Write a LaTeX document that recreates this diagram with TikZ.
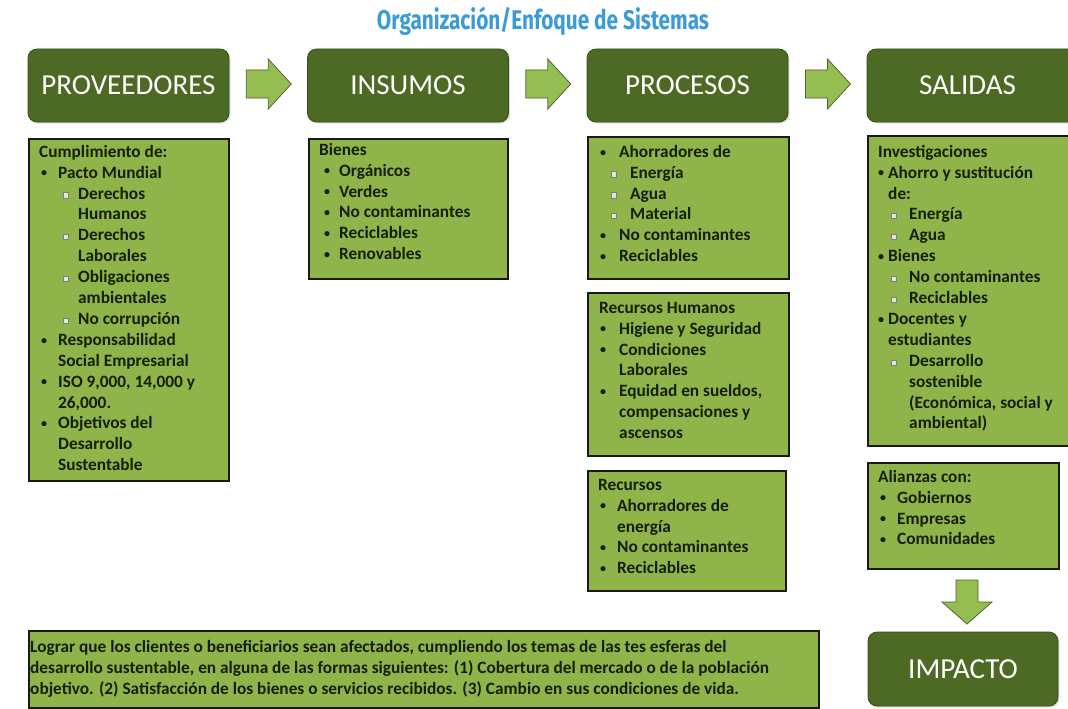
\documentclass[tikz,border=0pt]{standalone}
\usepackage{fontspec}
\setmainfont{Carlito}
\newfontfamily\titlefont{Fira Sans}
\usetikzlibrary{calc,shadows}
\definecolor{hdrgreen}{RGB}{76,106,36}
\definecolor{hdrborder}{RGB}{55,78,25}
\definecolor{boxgreen}{RGB}{143,181,74}
\definecolor{arrowgreen}{RGB}{148,190,82}
\definecolor{arrowborder}{RGB}{80,98,52}
\definecolor{txtdark}{RGB}{22,30,8}
\definecolor{titleblue}{RGB}{58,155,216}
\definecolor{sqfill}{RGB}{225,232,210}
\newcommand\sqbox{\raisebox{1.5pt}{\setlength\fboxsep{0pt}\setlength\fboxrule{0.6pt}\fcolorbox{black!50}{sqfill}{\rule{0pt}{4.6pt}\rule{4.6pt}{0pt}}}}
\newcommand\smbul{\raisebox{1.2pt}{\fontsize{12}{12}\selectfont\textbullet}}
\newcommand\Bu[3]{\hspace*{#1pt}\makebox[\dimexpr#2pt-#1pt\relax][l]{\smbul}#3}
\newcommand\Sb[3]{\hspace*{#1pt}\makebox[\dimexpr#2pt-#1pt\relax][l]{\sqbox}#3}
\newcommand\Co[2]{\hspace*{#1pt}#2}
\begin{document}
\begin{tikzpicture}[x=1pt,y=-1pt,
  hdr/.style={rounded corners=9pt, fill=hdrgreen, draw=hdrborder, line width=0.8pt,
    minimum width=201pt, minimum height=73pt, text=white,
    font=\fontsize{29}{32}\selectfont, drop shadow={opacity=0.25, shadow xshift=1.5pt, shadow yshift=-1.5pt}},
  cbox/.style={rectangle, fill=boxgreen, draw=black!90, line width=2pt, anchor=north west, inner sep=0pt},
  ctext/.style={anchor=north west, inner sep=0pt, align=left, text=txtdark,
    font=\bfseries\fontsize{17.3}{20.9}\selectfont},
  blockarrow/.style={fill=arrowgreen, draw=arrowborder, line width=0.8pt, line join=miter}
]
\useasboundingbox (0,0) rectangle (1068,709);
\fill[white] (0,0) rectangle (1068,709);

% title
\node[text=titleblue, inner sep=0pt] (title) at (543,21)
  {\resizebox{332pt}{\height}{\titlefont\bfseries\fontsize{27}{30}\selectfont Organización/Enfoque de Sistemas}};

% headers
\node[hdr] (prov) at (128.5,85.5) {PROVEEDORES};
\node[hdr] (ins) at (408,85.5) {INSUMOS};
\node[hdr] (proc) at (687.5,85.5) {PROCESOS};
\node[hdr, minimum width=222pt] (sal) at (978,85.5) {\hspace{-21pt}SALIDAS};

% right arrows
\foreach \a/\b/\n in {prov/ins/a1, ins/proc/a2, proc/sal/a3}{
  \coordinate (\n) at ($(\a.east)!0.5!(\b.west)+(0,-1.5)$);
  \draw[blockarrow, shift={(\n)}] (-22,-14) -- (0,-14) -- (0,-25) -- (23,0) -- (0,25) -- (0,14) -- (-22,14) -- cycle;
}

% content boxes
\node[cbox, minimum width=200pt, minimum height=342pt] (provbox) at (28,138) {};
\node[cbox, minimum width=199pt, minimum height=140pt] (insbox) at (308,138) {};
\node[cbox, minimum width=201pt, minimum height=142pt] (p1box) at (587,136) {};
\node[cbox, minimum width=201pt, minimum height=163pt] (p2box) at (587,292) {};
\node[cbox, minimum width=198pt, minimum height=120pt] (p3box) at (587,470) {};
\node[cbox, minimum width=215pt, minimum height=310pt] (s1box) at (867,135) {};
\node[cbox, minimum width=191pt, minimum height=106pt] (s2box) at (867,462) {};
\node[cbox, minimum width=790pt, minimum height=77pt] (bottombox) at (28,630) {};

% texts
\node[ctext] (provtxt) at (39,142.4) {\strut Cumplimiento de:\\
\Bu{2}{19}{Pacto Mundial}\\
\Sb{23.5}{39}{Derechos}\\
\Co{39}{Humanos}\\
\Sb{23.5}{39}{Derechos}\\
\Co{39}{Laborales}\\
\Sb{23.5}{39}{Obligaciones}\\
\Co{39}{ambientales}\\
\Sb{23.5}{39}{No corrupción}\\
\Bu{2}{19}{Responsabilidad}\\
\Co{19}{Social Empresarial}\\
\Bu{2}{19}{ISO 9,000, 14,000 y}\\
\Co{19}{26,000.}\\
\Bu{2}{19}{Objetivos del}\\
\Co{19}{Desarrollo}\\
\Co{19}{Sustentable}};

\node[ctext] (instxt) at (319,140.4) {\strut Bienes\\
\Bu{5}{20}{Orgánicos}\\
\Bu{5}{20}{Verdes}\\
\Bu{5}{20}{No contaminantes}\\
\Bu{5}{20}{Reciclables}\\
\Bu{5}{20}{Renovables}};

\node[ctext] (p1txt) at (599,142.4) {\strut\Bu{1}{20}{Ahorradores de}\\
\Sb{11.5}{31}{Energía}\\
\Sb{11.5}{31}{Agua}\\
\Sb{11.5}{31}{Material}\\
\Bu{1}{20}{No contaminantes}\\
\Bu{1}{20}{Reciclables}};

\node[ctext] (p2txt) at (599,298.4) {\strut Recursos Humanos\\
\Bu{1}{20}{Higiene y Seguridad}\\
\Bu{1}{20}{Condiciones}\\
\Co{20}{Laborales}\\
\Bu{1}{20}{Equidad en sueldos,}\\
\Co{20}{compensaciones y}\\
\Co{20}{ascensos}};

\node[ctext] (p3txt) at (598,475.4) {\strut Recursos\\
\Bu{2}{19}{Ahorradores de}\\
\Co{19}{energía}\\
\Bu{2}{19}{No contaminantes}\\
\Bu{2}{19}{Reciclables}};

\node[ctext] (s1txt) at (878,142.4) {\strut Investigaciones\\
\Bu{0}{10}{Ahorro y sustitución}\\
\Co{10}{de:}\\
\Sb{12.5}{31}{Energía}\\
\Sb{12.5}{31}{Agua}\\
\Bu{0}{10}{Bienes}\\
\Sb{12.5}{31}{No contaminantes}\\
\Sb{12.5}{31}{Reciclables}\\
\Bu{0}{10}{Docentes y}\\
\Co{10}{estudiantes}\\
\Sb{12.5}{31}{Desarrollo}\\
\Co{31}{sostenible}\\
\Co{31}{(Económica, social y}\\
\Co{31}{ambiental)}};

\node[ctext] (s2txt) at (878,467.4) {\strut Alianzas con:\\
\Bu{2}{19}{Gobiernos}\\
\Bu{2}{19}{Empresas}\\
\Bu{2}{19}{Comunidades}};

\node[ctext] (bottomtxt) at (30,637.4) {\strut Lograr que los clientes o beneficiarios sean afectados, cumpliendo los temas de las tes esferas del\\
desarrollo sustentable, en alguna de las formas siguientes: (1) Cobertura del mercado o de la población\\
objetivo. (2) Satisfacción de los bienes o servicios recibidos. (3) Cambio en sus condiciones de vida.};

% impacto
\node[hdr, minimum width=190pt, minimum height=74pt] (imp) at (963,669) {IMPACTO};
\coordinate (a4) at ($(s2box.south)!0.5!(imp.north)$);
\draw[blockarrow, shift={(967,601)}] (-11,-21) -- (11,-21) -- (11,1) -- (25,1) -- (0,23) -- (-25,1) -- (-11,1) -- cycle;
\end{tikzpicture}
\end{document}
